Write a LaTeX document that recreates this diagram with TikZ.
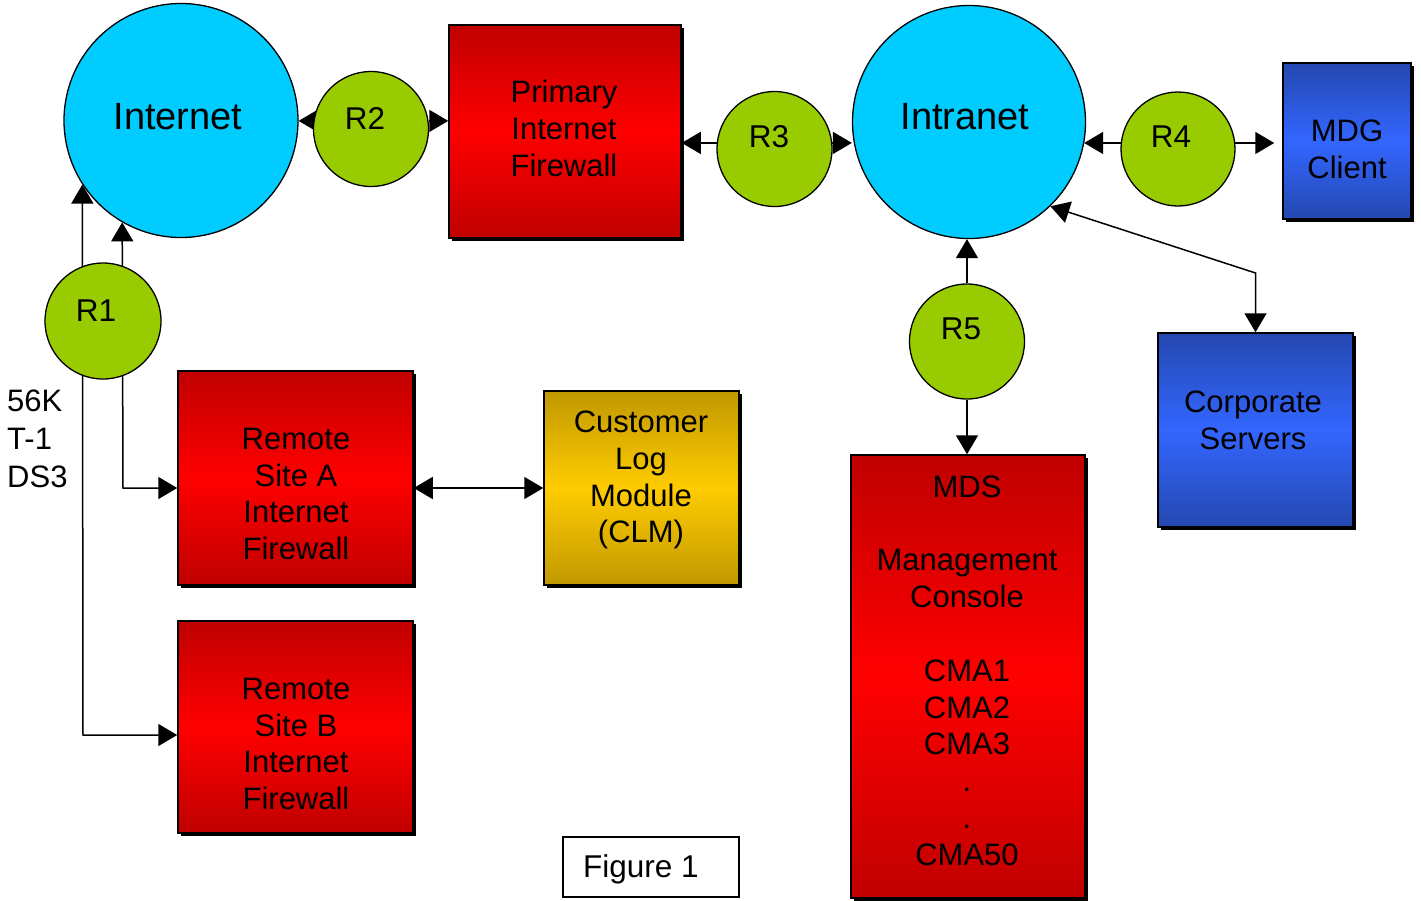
\documentclass[tikz,border=0pt]{standalone}
\usepackage{fontspec}
\setmainfont{Liberation Sans}
\usetikzlibrary{arrows.meta,shadows,backgrounds}
\definecolor{cloudc}{HTML}{00CCFF}
\definecolor{routerc}{HTML}{99CC00}
\definecolor{redd}{HTML}{C00000}
\definecolor{redl}{HTML}{FF0000}
\definecolor{blued}{HTML}{2448B0}
\definecolor{bluel}{HTML}{3366FF}
\definecolor{goldd}{HTML}{C09800}
\definecolor{goldl}{HTML}{FFCC00}
\begin{document}
\begin{tikzpicture}[x=1pt,y=-1pt,
  cloud/.style={circle,draw=black,line width=1.3pt,fill=cloudc,inner sep=0pt,minimum size=#1},
  router/.style={circle,draw=black,line width=1.3pt,fill=routerc,inner sep=0pt,minimum size=#1},
  boxbase/.style={rectangle,draw=black,line width=1.5pt,inner sep=0pt,
    drop shadow={shadow xshift=2.5pt,shadow yshift=-2.5pt,fill=black,opacity=1}},
  redbox/.style={boxbase,top color=redd,bottom color=redd,middle color=redl},
  bluebox/.style={boxbase,top color=blued,bottom color=blued,middle color=bluel},
  goldbox/.style={boxbase,top color=goldd,bottom color=goldd,middle color=goldl},
  bigtxt/.style={font=\fontsize{38}{45}\selectfont,inner sep=0pt,anchor=base},
  rtxt/.style={font=\fontsize{31.5}{37}\selectfont,inner sep=0pt,anchor=base},
  mtxt/.style={font=\fontsize{31}{36.8}\selectfont,inner sep=0pt,align=center,
    execute at begin node=\strut,execute at end node=\strut},
  arr/.style={line width=1.5pt,-{Triangle[length=19pt,width=22pt]}},
  arrs/.style={line width=1.5pt,{Triangle[length=19pt,width=22pt]}-{Triangle[length=19pt,width=22pt]}},
]
\useasboundingbox (0,0) rectangle (1421,900);

% clouds and routers
\node[cloud=234pt] (inet) at (181,120.5) {};
\node[cloud=233pt] (intra) at (969,122) {};
\node[router=116pt] (R1) at (103,321) {};
\node[router=115pt] (R2) at (371,129) {};
\node[router=115pt] (R3) at (774.5,149) {};
\node[router=114pt] (R4) at (1178,149) {};
\node[router=115pt] (R5) at (967,341.5) {};

% boxes
\node[redbox,minimum width=232pt,minimum height=213pt] (pif) at (565,131.5) {};
\node[bluebox,minimum width=128pt,minimum height=156pt] (mdg) at (1347,141) {};
\node[bluebox,minimum width=195pt,minimum height=194pt] (corp) at (1255.5,430) {};
\node[redbox,minimum width=234pt,minimum height=443pt] (mds) at (968,676.5) {};
\node[redbox,minimum width=235pt,minimum height=214pt] (rsa) at (295.5,478) {};
\node[redbox,minimum width=235pt,minimum height=212pt] (rsb) at (295.5,727) {};
\node[goldbox,minimum width=195pt,minimum height=194pt] (clm) at (641.5,488) {};
\node[rectangle,draw=black,line width=1.5pt,fill=white,minimum width=176pt,minimum height=60pt] (fig) at (651,867) {};

% texts
\node[bigtxt] (tinet) at (178,129) {Internet};
\node[bigtxt] (tintra) at (965,129) {Intranet};
\node[rtxt] (tR1) at (96,321) {R1};
\node[rtxt] (tR2) at (365,129) {R2};
\node[rtxt] (tR3) at (769,147) {R3};
\node[rtxt] (tR4) at (1171,147) {R4};
\node[rtxt] (tR5) at (961,339) {R5};
\node[mtxt] (tpif) at (564,133.8) {Primary\\Internet\\Firewall};
\node[mtxt] (tmdg) at (1347,154.6) {MDG\\Client};
\node[mtxt] (tcorp) at (1253,425.4) {Corporate\\Servers};
\node[mtxt] (trsa) at (296,499.4) {Remote\\Site A\\Internet\\Firewall};
\node[mtxt] (trsb) at (296,749.4) {Remote\\Site B\\Internet\\Firewall};
\node[mtxt] (tclm) at (641,482.4) {Customer\\Log\\Module\\(CLM)};
\node[mtxt] (tmds) at (967,676) {MDS\\\mbox{}\\Management\\Console\\\mbox{}\\CMA1\\CMA2\\CMA3\\.\\.\\CMA50};
\node[mtxt,align=left,anchor=west,font=\fontsize{31}{38}\selectfont] (tlink) at (7,444.6) {56K\\T-1\\DS3};
\node[rtxt] (tfig) at (641,877) {Figure 1};

% connectors
\coordinate (c1) at (123,488);
\coordinate (c2) at (83,735);
\coordinate (c3) at (1255.5,273);
\begin{pgfonlayer}{background}
\fill[white] (0,0) rectangle (1421,900);
\draw[arrs] (inet.240) -- (c1) -- ([yshift=-10pt]rsa.west);
\draw[arrs] (inet.213) -- (c2) -- ([yshift=-8pt]rsb.west);
\draw[arr] (R2.172) -- (R2.172 -| inet.east);
\draw[arr] (R2.8) -- (R2.8 -| pif.west);
\draw[arr] (R3.174) -- (R3.174 -| pif.east);
\draw[arr] (R3.6) -- (R3.6 -| intra.west);
\draw[arr] (R4.174) -- ([xshift=-2pt]R4.174 -| intra.east);
\draw[arr,shorten >=8pt] (R4.6) -- (R4.6 -| mdg.west);
\draw[arr] (R5.north) -- (R5.north |- intra.south);
\draw[arr] (R5.south) -- (R5.south |- mds.north);
\draw[arrs] (intra.-46) -- (c3) -- (corp.north);
\draw[arrs] (clm.west -| rsa.east) -- (clm.west);
\end{pgfonlayer}
\end{tikzpicture}
\end{document}
